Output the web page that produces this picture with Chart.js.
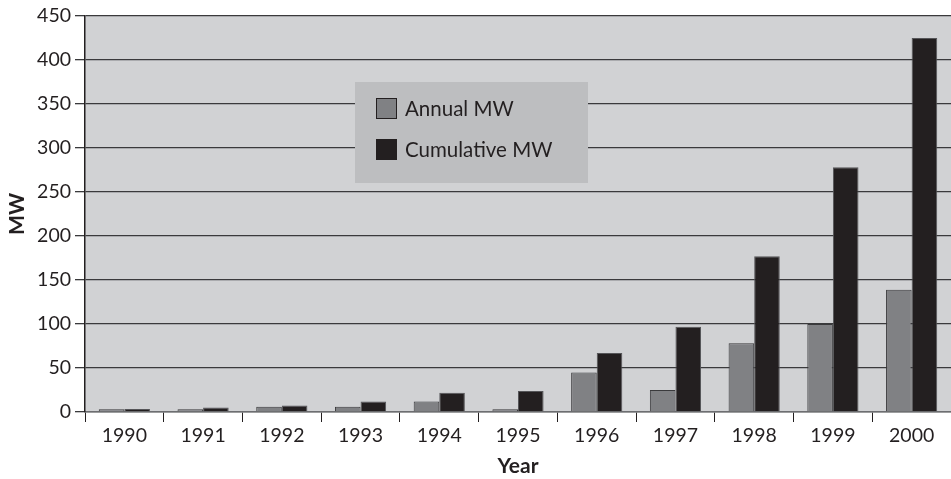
<!DOCTYPE html>
<html>
<head>
<meta charset="utf-8">
<script src="https://cdn.jsdelivr.net/npm/chart.js@4.4.0/dist/chart.umd.min.js"></script>
<style>
  html, body { margin: 0; padding: 0; background: #fff; }
  #wrap { width: 951px; height: 479px; position: relative; }
</style>
</head>
<body>
<div id="wrap"><canvas id="myChart"></canvas></div>
<script>
// data
var years = ['1990', '1991', '1992', '1993', '1994', '1995', '1996', '1997', '1998', '1999', '2000'];
var annualMW = [3, 3, 6, 6, 12, 3, 45, 25, 78, 100, 139];
var cumulativeMW = [3.5, 5, 7.5, 12, 22, 24, 67, 97, 177, 278, 425];
var yMax = 450;
var yStep = 50;

var FONT = 'Lato, "Open Sans", sans-serif';

// grey plot background
var plotBg = {
  id: 'plotBg',
  beforeDraw: function(chart) {
    var a = chart.chartArea, ctx = chart.ctx;
    ctx.save();
    ctx.fillStyle = '#d1d2d4';
    ctx.fillRect(a.left, a.top, a.right - a.left, a.bottom - a.top);
    ctx.restore();
  }
};

// legend box sitting inside the plot
var boxLegend = {
  id: 'boxLegend',
  beforeDatasetsDraw: function(chart) {
    var a = chart.chartArea, ctx = chart.ctx;
    var x = a.left + 270, y = a.top + 66, w = 233, h = 101;
    ctx.save();
    ctx.fillStyle = '#bdbec0';
    ctx.fillRect(x, y, w, h);
    ctx.font = '20.5px ' + FONT;
    ctx.textBaseline = 'middle';
    chart.data.datasets.forEach(function(ds, i) {
      var sy = y + 16 + i * 41;
      ctx.fillStyle = ds.backgroundColor;
      ctx.fillRect(x + 21, sy, 21, 21);
      ctx.strokeStyle = '#231f20';
      ctx.lineWidth = 1;
      ctx.strokeRect(x + 21.5, sy + 0.5, 20, 20);
      ctx.fillStyle = '#231f20';
      ctx.fillText(ds.label, x + 50, sy + 11);
    });
    ctx.restore();
  }
};

var ctx = document.getElementById('myChart');
var myChart = new Chart(ctx, {
  type: 'bar',
  data: {
    labels: years,
    datasets: [
      {
        label: 'Annual MW',
        data: annualMW,
        backgroundColor: '#808184',
        borderColor: '#3a3a3c',
        borderWidth: 1
      },
      {
        label: 'Cumulative MW',
        data: cumulativeMW,
        backgroundColor: '#231f20',
        borderColor: '#555558',
        borderWidth: 1
      }
    ]
  },
  options: {
    responsive: true,
    maintainAspectRatio: false,
    animation: false,
    layout: { padding: { top: 16, right: 0, left: 0, bottom: 0 } },
    datasets: { bar: { categoryPercentage: 0.65, barPercentage: 1.0 } },
    plugins: {
      legend: { display: false },
      tooltip: { enabled: false }
    },
    scales: {
      x: {
        offset: true,
        grid: {
          offset: true,
          drawOnChartArea: false,
          drawTicks: true,
          tickLength: 10,
          color: '#231f20',
          lineWidth: 1
        },
        border: { color: '#6d6e71', width: 1.5 },
        ticks: { color: '#231f20', font: { family: FONT, size: 19.5 }, padding: 2, maxRotation: 0 },
        title: {
          display: true,
          text: 'Year',
          color: '#231f20',
          font: { family: FONT, size: 21, weight: 'bold' },
          padding: { top: 4, bottom: 0 }
        },
        afterFit: function(s) { s.height = 67; }
      },
      y: {
        min: 0,
        max: yMax,
        grid: {
          color: '#3a3a3c',
          lineWidth: 1.3,
          tickLength: 10
        },
        border: { color: '#231f20', width: 1.5 },
        ticks: {
          stepSize: yStep,
          color: '#231f20',
          font: { family: FONT, size: 19.5 },
          padding: 4
        },
        title: {
          display: true,
          text: 'MW',
          color: '#231f20',
          font: { family: FONT, size: 21, weight: 'bold' },
          padding: { top: 5, bottom: 0 }
        },
        afterFit: function(s) { s.width = 85; }
      }
    }
  },
  plugins: [plotBg, boxLegend]
});
</script>
</body>
</html>
